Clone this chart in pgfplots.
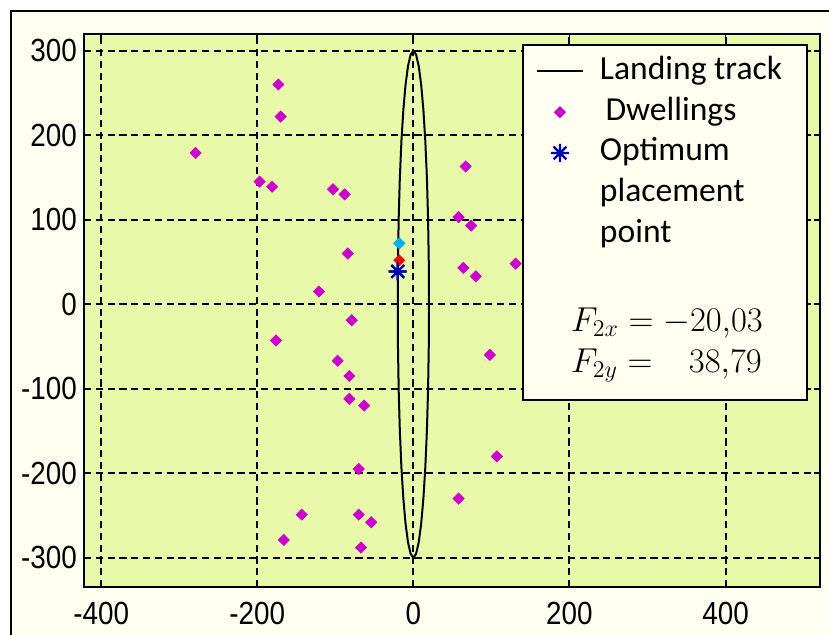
\documentclass[border=0pt]{standalone}
\usepackage[no-math]{fontspec}
\setmainfont{Liberation Sans}
\newfontfamily\tickfont[FakeStretch=0.87]{Liberation Sans}
\newfontfamily\legfont{Carlito}
\usepackage{pgfplots}
\pgfplotsset{compat=1.18}
\definecolor{plotbg}{HTML}{E8FAAA}
\definecolor{ivory}{HTML}{FFFFF2}
\definecolor{dwell}{HTML}{CC00CC}
\definecolor{optblue}{HTML}{0000B0}
\pgfdeclareplotmark{mstar}{%
 \pgfpathmoveto{\pgfqpoint{-\pgfplotmarksize}{0pt}}\pgfpathlineto{\pgfqpoint{\pgfplotmarksize}{0pt}}%
 \pgfpathmoveto{\pgfqpoint{0pt}{-\pgfplotmarksize}}\pgfpathlineto{\pgfqpoint{0pt}{\pgfplotmarksize}}%
 \pgfpathmoveto{\pgfqpoint{-.7071\pgfplotmarksize}{-.7071\pgfplotmarksize}}\pgfpathlineto{\pgfqpoint{.7071\pgfplotmarksize}{.7071\pgfplotmarksize}}%
 \pgfpathmoveto{\pgfqpoint{-.7071\pgfplotmarksize}{.7071\pgfplotmarksize}}\pgfpathlineto{\pgfqpoint{.7071\pgfplotmarksize}{-.7071\pgfplotmarksize}}%
 \pgfusepathqstroke}
\begin{document}
\begin{tikzpicture}
\useasboundingbox (0,0) rectangle (414.5pt,317.5pt);
\fill[white] (0,0) rectangle (414.5pt,317.5pt);
\fill[ivory] (5.5pt,0) rectangle (414.5pt,312pt);
\draw[line width=1.2pt] (5.5pt,-2pt) -- (5.5pt,312pt) -- (420pt,312pt);
\begin{axis}[
  at={(42pt,23.85pt)}, anchor=south west, scale only axis,
  width=368pt, height=276.65pt,
  xmin=-422, xmax=521, ymin=-335, ymax=319.8,
  xtick={-400,-200,0,200,400},
  ytick={-300,-200,-100,0,100,200,300},
  axis background/.style={fill=plotbg},
  axis line style={line width=1pt, black},
  tick style={black, line width=0.9pt},
  major tick length=3pt,
  tick align=inside,
  grid=major,
  major grid style={black, line width=1pt, dash pattern=on 3.6pt off 2.3pt},
  /pgf/number format/assume math mode=true,
  ticklabel style={font=\tickfont\fontsize{16}{18}\selectfont},
  xticklabel style={yshift=-3.9pt},
  legend style={draw=none, fill=none, at={(rel axis cs:0.6054,0.9729)}, anchor=north west,
    font=\legfont\fontsize{16.8}{19}\selectfont,
    nodes={inner sep=1pt, text height=12pt, text depth=4pt},
    row sep=2.4pt, column sep=7pt},
  legend cell align=left,
  legend image code/.code={\draw[mark repeat=2,mark phase=2,#1] plot coordinates {(0pt,0pt) (11.5pt,0pt) (23pt,0pt)};},
]
% landing track (ellipse)
\addplot[black, line width=1pt] coordinates {
(0,300) (3.47,295.44) (6.84,281.91) (10,259.81) (12.86,229.81) (15.32,192.84) (17.32,150)
(18.79,102.61) (19.70,52.09) (20,0) (19.70,-52.09) (18.79,-102.61) (17.32,-150)
(15.32,-192.84) (12.86,-229.81) (10,-259.81) (6.84,-281.91) (3.47,-295.44) (0,-300)
(-3.47,-295.44) (-6.84,-281.91) (-10,-259.81) (-12.86,-229.81) (-15.32,-192.84) (-17.32,-150)
(-18.79,-102.61) (-19.70,-52.09) (-20,0) (-19.70,52.09) (-18.79,102.61) (-17.32,150)
(-15.32,192.84) (-12.86,229.81) (-10,259.81) (-6.84,281.91) (-3.47,295.44) (0,300)};
\addlegendentry{Landing track}
% dwellings
\addplot[only marks, mark=square*, mark size=1.95pt, mark options={rotate=45, draw=dwell, fill=dwell}] coordinates {
(-173,260) (-170,222) (-279,179) (-197,145) (-181,139) (-103,136) (-88,130)
(-84,60) (-121,15) (-79,-19) (-176,-43) (-97,-67) (-82,-85) (-82,-112) (-63,-120)
(-70,-195) (-143,-249) (-70,-249) (-54,-258) (-166,-279) (-67,-288)
(67,163) (58,103) (74,93) (64,43) (80,33) (131,48) (98,-60) (107,-180) (58,-230)};
\addlegendentry{\,Dwellings}
% optimum point
\addplot[only marks, mark=mstar, mark size=4.5pt, mark options={draw=optblue, line width=1.1pt}] coordinates {(-20.03,38.79)};
\addlegendentry{Optimum}
\addlegendimage{empty legend}\addlegendentry{placement}
\addlegendimage{empty legend}\addlegendentry{point}
% extra points
\addplot[forget plot, only marks, mark=square*, mark size=1.95pt, mark options={rotate=45, draw=cyan, fill=cyan}] coordinates {(-18,72)};
\addplot[forget plot, only marks, mark=square*, mark size=1.9pt, mark options={rotate=45, draw=red, fill=red}] coordinates {(-18,52)};
\addplot[forget plot, only marks, mark=mstar, mark size=4.5pt, mark options={draw=optblue, line width=1.1pt}] coordinates {(-20.03,38.79)};
% legend box
\draw[black, line width=0.9pt, fill=ivory] (rel axis cs:0.5969,0.9801) rectangle (rel axis cs:0.9819,0.3385);
\node[font=\fontsize{17}{20.8}\selectfont, align=left] at (rel axis cs:0.7920,0.4380)
 {$F_{2x} = -20{,}03$\\ $F_{2y} = \phantom{-}38{,}79$};
\end{axis}
\end{tikzpicture}
\end{document}
